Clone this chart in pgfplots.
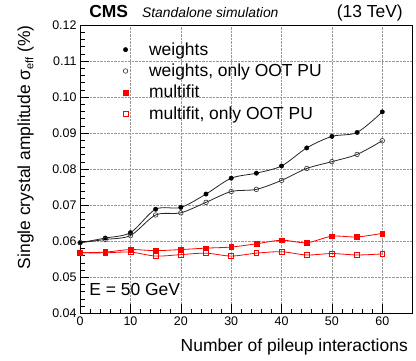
\documentclass[border=0pt]{standalone}
\usepackage{fontspec}
\setmainfont{Liberation Sans}
\usepackage{pgfplots}
\pgfplotsset{compat=1.18}
\usepackage{pgfplotstable}
\usetikzlibrary{calc}

\pgfplotstableread{
x y
0 0.0596
5 0.0609
10 0.0624
15 0.0689
20 0.0694
25 0.0731
30 0.0775
35 0.0789
40 0.0809
45 0.0859
50 0.0891
55 0.0902
60 0.0959
}\weights
\pgfplotstableread{
x y
0 0.0596
5 0.0605
10 0.0616
15 0.0673
20 0.0679
25 0.0708
30 0.0738
35 0.0744
40 0.0769
45 0.0802
50 0.0821
55 0.0841
60 0.0879
}\weightsoot
\pgfplotstableread{
x y
0 0.0568
5 0.0570
10 0.0577
15 0.0574
20 0.0577
25 0.0581
30 0.0584
35 0.0593
40 0.0603
45 0.0596
50 0.0614
55 0.0612
60 0.0622
}\multifit
\pgfplotstableread{
x y
0 0.0568
5 0.0568
10 0.0570
15 0.0559
20 0.0563
25 0.0567
30 0.0559
35 0.0567
40 0.0571
45 0.0562
50 0.0566
55 0.0562
60 0.0565
}\multifitoot

\begin{document}
\begin{tikzpicture}
\begin{axis}[
  name=ax, at={(0,0)}, anchor=south west,
  scale only axis, width=332bp, height=288bp,
  xmin=0, xmax=66, ymin=0.04, ymax=0.12,
  xtick={0,10,20,30,40,50,60}, minor x tick num=4,
  ytick={0.04,0.05,0.06,0.07,0.08,0.09,0.10,0.11,0.12}, minor y tick num=4,
  tick align=inside, xtick pos=left, ytick pos=left,
  major tick length=9bp, minor tick length=4.5bp,
  grid=major, major grid style={densely dotted, gray!80, line width=0.5bp},
  axis line style={line width=0.8bp},
  every tick/.style={black, line width=0.6bp},
  ticklabel style={font=\fontsize{12.5}{12.5}\selectfont},
  yticklabel style={/pgf/number format/.cd, fixed, fixed zerofill, precision=2, assume math mode=true},
  xticklabel style={/pgf/number format/assume math mode=true},
  scaled y ticks=false,
  legend cell align=left,
  legend style={draw=none, fill=none, at={(rel axis cs:0.10,0.945)}, anchor=north west,
    font=\fontsize{17.5}{17.5}\selectfont, row sep=4.2bp, inner sep=0pt,
    nodes={inner sep=1.5bp}},
  legend image code/.code={\path[draw=none,fill=none] (0bp,0bp) rectangle (34bp,0bp); \draw[#1] plot coordinates {(12bp,0bp)};},
]
\addplot[smooth, black!85, line width=0.8bp, forget plot] table {\weights};
\addplot[smooth, black!85, line width=0.8bp, forget plot] table {\weightsoot};
\addplot[smooth, red, line width=0.8bp, forget plot] table {\multifit};
\addplot[smooth, red, line width=0.8bp, forget plot] table {\multifitoot};
\addplot[only marks, mark=*, mark size=2.2bp, black, mark options={fill=black}] table {\weights};
\addlegendentry{weights}
\addplot[only marks, mark=o, mark size=2.3bp, black!80, mark options={line width=0.6bp}] table {\weightsoot};
\addlegendentry{weights, only OOT PU}
\addplot[only marks, mark=square*, mark size=2.4bp, red, mark options={fill=red}] table {\multifit};
\addlegendentry{multifit}
\addplot[only marks, mark=square, mark size=2.4bp, red, mark options={line width=0.6bp}] table {\multifitoot};
\addlegendentry{multifit, only OOT PU}
\end{axis}
\node[anchor=base west, font=\fontsize{17.5}{17.5}\selectfont, inner sep=0pt] at ($(ax.south west)+(9bp,18bp)$) {E = 50 GeV};
\node[anchor=base west, font=\fontsize{17.5}{17.5}\selectfont\bfseries, inner sep=0pt] at ($(ax.north west)+(9bp,8bp)$) {CMS};
\node[anchor=base west, font=\fontsize{13.9}{13.9}\selectfont\itshape, inner sep=0pt] at ($(ax.north west)+(61.7bp,8bp)$) {Standalone simulation};
\node[anchor=base east, font=\fontsize{17.5}{17.5}\selectfont, inner sep=0pt] at ($(ax.north east)+(-9.5bp,8bp)$) {(13 TeV)};
\node[anchor=base east, font=\fontsize{17.5}{17.5}\selectfont, inner sep=0pt] at ($(ax.south east)+(-4.5bp,-38bp)$) {Number of pileup interactions};
\node[anchor=base east, rotate=90, font=\fontsize{17.5}{17.5}\selectfont, inner sep=0pt] at ($(ax.north west)+(-50bp,0bp)$) {Single crystal amplitude σ\raisebox{-0.35ex}{\fontsize{11}{11}\selectfont eff} (\%)};
\pgfresetboundingbox
\path[use as bounding box] ($(ax.south west)+(-80bp,-47bp)$) rectangle ($(ax.north east)+(3.5bp,25bp)$);
\end{tikzpicture}
\end{document}
